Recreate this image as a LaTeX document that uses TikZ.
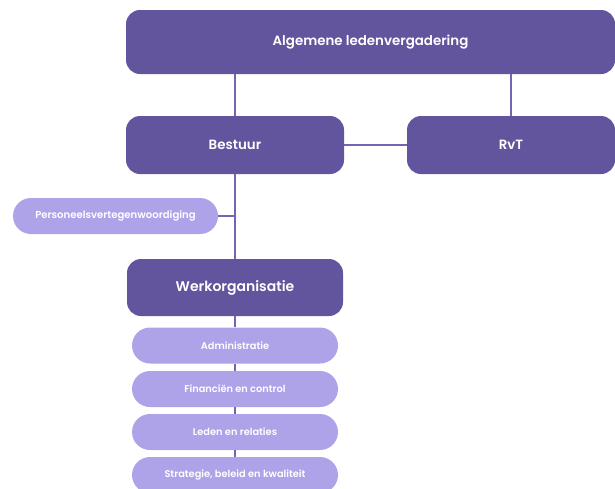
\documentclass[tikz,border=0pt]{standalone}
\usepackage{fontspec}
\setmainfont{Poppins}[BoldFont={Poppins SemiBold}]
\definecolor{donker}{HTML}{62559E}
\definecolor{licht}{HTML}{AEA3E8}
\definecolor{lijn}{HTML}{7464B4}
\tikzset{
  orgaan/.style={fill=donker, text=white, rounded corners=14pt, inner sep=0pt, font=\bfseries},
  afdeling/.style={fill=licht, text=white, rounded corners=18pt, inner sep=0pt, minimum width=206pt, minimum height=36pt, font=\bfseries\fontsize{9.8}{11}\selectfont},
}
\begin{document}
\begin{tikzpicture}[x=1pt,y=-1pt]
    \useasboundingbox (0,0) rectangle (615,488);
    \node[orgaan, minimum width=489pt, minimum height=64pt, font=\bfseries\fontsize{13.4}{15}\selectfont] (alv) at (370.5,42) {Algemene ledenvergadering};
    \node[orgaan, minimum width=218pt, minimum height=58pt, font=\bfseries\fontsize{13.4}{15}\selectfont] (bestuur) at (235,145) {Bestuur};
    \node[orgaan, minimum width=208pt, minimum height=58pt, font=\bfseries\fontsize{13.4}{15}\selectfont] (rvt) at (511,145) {RvT};
    \node[afdeling, minimum width=205pt, font=\bfseries\fontsize{10.1}{12}\selectfont] (pvw) at (115.5,216) {Personeelsvertegenwoordiging};
    \node[orgaan, minimum width=216pt, minimum height=57pt, font=\bfseries\fontsize{14}{16}\selectfont] (werk) at (235,287.5) {Werkorganisatie};
    \node[afdeling] (admin) at (235,345.5) {Administratie};
    \node[afdeling] (fin) at (235,389) {Financiën en control};
    \node[afdeling] (leden) at (235,432) {Leden en relaties};
    \node[afdeling] (strat) at (235,475) {Strategie, beleid en kwaliteit};
    % verbindingen
    \draw[lijn, line width=1.5pt] (alv.south -| bestuur) -- (bestuur.north);
    \draw[lijn, line width=1.5pt] (alv.south -| rvt) -- (rvt.north);
    \draw[lijn, line width=1.5pt] (bestuur.east) -- (rvt.west);
    \draw[lijn, line width=1.5pt] (bestuur.south) -- (werk.north);
    \draw[lijn, line width=1.5pt] (pvw.east) -- (pvw.east -| bestuur);
    \draw[lijn, line width=1.5pt] (werk.south) -- (admin.north);
    \draw[lijn, line width=1.5pt] (admin.south) -- (fin.north);
    \draw[lijn, line width=1.5pt] (fin.south) -- (leden.north);
    \draw[lijn, line width=1.5pt] (leden.south) -- (strat.north);
\end{tikzpicture}
\end{document}
